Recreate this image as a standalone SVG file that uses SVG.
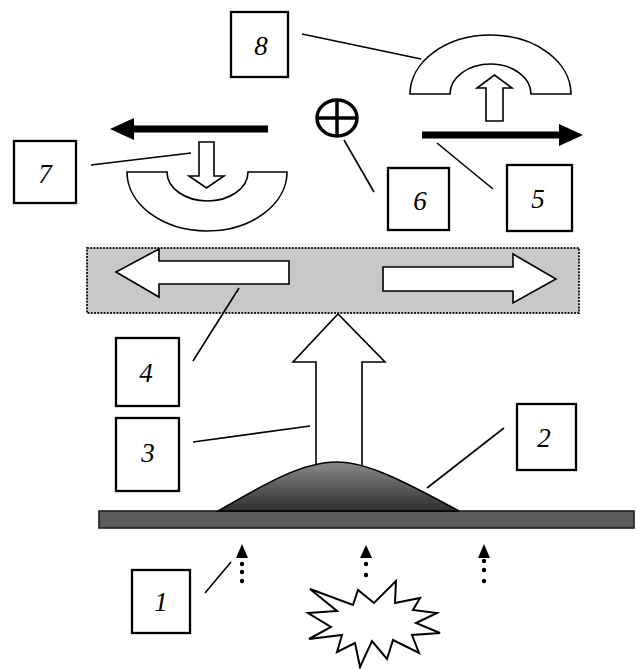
<svg xmlns="http://www.w3.org/2000/svg" width="637" height="669" viewBox="0 0 637 669">
  <defs>
    <style>
      .box { fill: #fff; stroke: #000; stroke-width: 2.3; }
      .num { font-family: "Liberation Serif", "Times New Roman", serif; font-style: italic; font-size: 27px; text-anchor: middle; fill: #000; }
      .lead { stroke: #000; stroke-width: 1.6; fill: none; }
      .hollow { fill: #fff; stroke: #000; stroke-width: 1.6; stroke-linejoin: miter; }
      .solid { fill: #000; stroke: none; }
    </style>
    <linearGradient id="hillFill" x1="0" y1="0" x2="0" y2="1">
      <stop offset="0" stop-color="#8a8a8a"/>
      <stop offset="1" stop-color="#2e2e2e"/>
    </linearGradient>
  </defs>

  <rect width="637" height="669" fill="#fff"/>

  <!-- upper arch with rising arrow -->
  <g id="arch-top">
    <path class="hollow" d="M410,94 A80.5,59 0 0 1 571,94 L531,94 A40.5,30 0 0 0 450,94 Z"/>
    <polygon class="hollow" points="486,121 486,88 477,88 494.5,75 512,88 503,88 503,121"/>
  </g>

  <!-- lower bowl with descending arrow -->
  <g id="bowl-left">
    <path class="hollow" d="M127,172 A80,59 0 0 0 287,172 L248,172 A40.5,29 0 0 1 167,172 Z"/>
    <polygon class="hollow" points="199,142 214,142 214,176 224,176 206.5,188 189,176 199,176"/>
  </g>

  <!-- solid horizontal arrows -->
  <g id="arrow-left">
    <rect class="solid" x="130" y="125.5" width="138" height="7"/>
    <polygon class="solid" points="110,129 134,118 134,140"/>
  </g>
  <g id="arrow-right">
    <rect class="solid" x="422" y="131.5" width="140" height="7"/>
    <polygon class="solid" points="583,135 559,124 559,146"/>
  </g>

  <!-- circled plus -->
  <g id="oplus" stroke="#000" stroke-width="3.5" fill="none">
    <ellipse cx="337" cy="118" rx="20" ry="18"/>
    <line x1="317" y1="118" x2="357" y2="118"/>
    <line x1="337" y1="100" x2="337" y2="136"/>
  </g>

  <!-- shaded band with spreading arrows -->
  <g id="band">
    <rect x="87" y="248" width="492" height="65" fill="#c8c8c8" stroke="#222" stroke-width="2" stroke-dasharray="2,1.2"/>
    <polygon class="hollow" points="289,261 289,284 159,284 159,297 116,272 159,249 159,261"/>
    <polygon class="hollow" points="383,267 513,267 513,254 556,279 513,303 513,291 383,291"/>
  </g>

  <!-- large rising arrow -->
  <g id="arrow-up">
    <polygon class="hollow" points="316,470 316,362 293,362 338,314 385,362 362,362 362,470"/>
  </g>

  <!-- base plate and mound -->
  <g id="base">
    <rect x="99" y="511" width="535" height="17" fill="#5c5c5c" stroke="#1e1e1e" stroke-width="1.6"/>
    <path d="M218,511 C268,482 303,462 337,462 C366,462 400,479 459,511 Z" fill="url(#hillFill)" stroke="#000" stroke-width="1.6"/>
  </g>

  <!-- dotted upward arrows under the plate -->
  <g id="dotted-arrows" fill="#000">
    <polygon points="242,544 236,558 248,558"/>
    <circle cx="242" cy="564" r="2.2"/>
    <circle cx="242" cy="572" r="2.2"/>
    <circle cx="242" cy="581" r="2.2"/>
    <polygon points="366,545 360,558 372,558"/>
    <circle cx="366" cy="564" r="2.2"/>
    <circle cx="366" cy="575" r="2.2"/>
    <polygon points="484,544 478,558 490,558"/>
    <circle cx="484" cy="561" r="2.2"/>
    <circle cx="484" cy="570" r="2.2"/>
    <circle cx="484" cy="581" r="2.2"/>
  </g>

  <!-- burst -->
  <g id="burst">
    <polygon fill="#fff" stroke="#000" stroke-width="2" stroke-linejoin="miter"
      points="310,589 353,605 358,590 374,603 396,581 395,603 420,598 413,610 437,613 416,623 440,633 412,635 419,653 393,640 387,659 372,641 360,667 355,643 337,652 342,635 309,639 331,627 308,613 337,611"/>
  </g>

  <!-- leader lines from the numbered boxes -->
  <g id="connectors">
    <line class="lead" x1="302" y1="34" x2="421" y2="59"/>
    <line class="lead" x1="91" y1="165" x2="191" y2="153"/>
    <line class="lead" x1="344" y1="140" x2="374" y2="192"/>
    <line class="lead" x1="437" y1="143" x2="493" y2="189"/>
    <line class="lead" x1="239" y1="288" x2="193" y2="361"/>
    <line class="lead" x1="193" y1="442" x2="310" y2="426"/>
    <line class="lead" x1="427" y1="488" x2="504" y2="428"/>
    <line class="lead" x1="205" y1="593" x2="231" y2="562"/>
  </g>

  <!-- numbered boxes -->
  <g id="label-1"><rect class="box" x="132" y="570" width="58" height="63"/><text class="num" x="161" y="611">1</text></g>
  <g id="label-2"><rect class="box" x="517" y="404" width="59" height="66"/><text class="num" x="544" y="447">2</text></g>
  <g id="label-3"><rect class="box" x="116" y="418" width="63" height="73"/><text class="num" x="148" y="462">3</text></g>
  <g id="label-4"><rect class="box" x="116" y="338" width="63" height="68"/><text class="num" x="146" y="382">4</text></g>
  <g id="label-5"><rect class="box" x="507" y="165" width="65" height="66"/><text class="num" x="538" y="208">5</text></g>
  <g id="label-6"><rect class="box" x="388" y="168" width="61" height="62"/><text class="num" x="420" y="210">6</text></g>
  <g id="label-7"><rect class="box" x="14" y="141" width="62" height="62"/><text class="num" x="45" y="183">7</text></g>
  <g id="label-8"><rect class="box" x="231" y="12" width="57" height="65"/><text class="num" x="261" y="55">8</text></g>
</svg>
